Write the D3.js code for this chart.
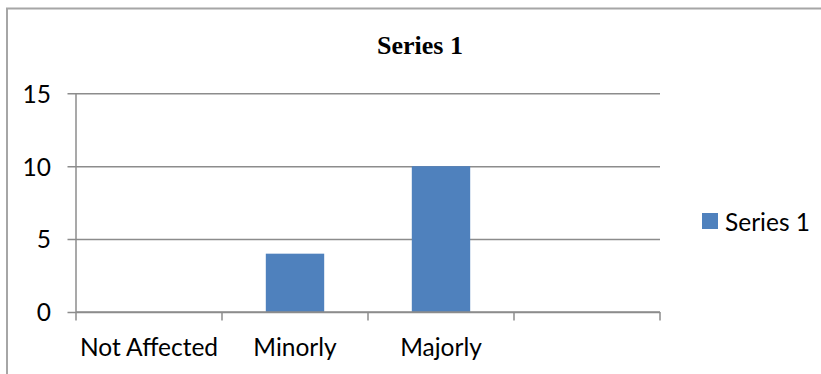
<!DOCTYPE html>
<html>
<head>
<meta charset="utf-8">
<script src="https://cdn.jsdelivr.net/npm/d3@7"></script>
<style>
  html, body { margin: 0; padding: 0; background: #fff; }
  svg { display: block; }
</style>
</head>
<body>
<svg id="chart" width="821" height="374"></svg>
<script>
// Chart data
const categories = ["Not Affected", "Minorly", "Majorly", ""];
const seriesName = "Series 1";
const seriesValues = [0, 4, 10, null];
const yTicks = [0, 5, 10, 15];

const W = 821, H = 374;
const plot = { left: 76, right: 660, top: 93.3, bottom: 312 };
const labelFont = "Lato, 'Noto Sans', sans-serif";
const labelSize = 24.5;
const gridColor = "#8c8c8c";
const barColor = "#4f81bd";

const svg = d3.select("#chart");

// Outer chart frame (runs off the right and bottom edges)
svg.append("rect")
  .attr("x", 7).attr("y", 8.5)
  .attr("width", W + 20).attr("height", H + 20)
  .attr("fill", "none")
  .attr("stroke", "#a6a6a6")
  .attr("stroke-width", 2);

// Scales
const x = d3.scaleBand()
  .domain(categories)
  .range([plot.left, plot.right])
  .paddingInner(0.6)
  .paddingOuter(0.3);

const xCat = d3.scaleBand()
  .domain(categories)
  .range([plot.left, plot.right])
  .padding(0);

const y = d3.scaleLinear()
  .domain([0, 15])
  .range([plot.bottom, plot.top]);

// Horizontal gridlines with left tick marks
const yAxis = d3.axisLeft(y)
  .tickValues(yTicks)
  .tickSize(-(plot.right - plot.left))
  .tickSizeOuter(0)
  .tickPadding(25)
  .tickFormat(d3.format("d"));

const gy = svg.append("g")
  .attr("transform", `translate(${plot.left},0)`)
  .call(yAxis);
gy.select(".domain").remove();
gy.selectAll(".tick line")
  .attr("x1", -8.5)
  .attr("stroke", gridColor)
  .attr("stroke-width", 1.5);
gy.selectAll(".tick text")
  .attr("font-family", labelFont)
  .attr("font-size", labelSize)
  .attr("fill", "#000")
  .attr("dy", "0.36em");

// Vertical value axis line
svg.append("line")
  .attr("x1", plot.left).attr("x2", plot.left)
  .attr("y1", plot.top).attr("y2", plot.bottom)
  .attr("stroke", gridColor)
  .attr("stroke-width", 1.5);

// Bars
svg.append("g")
  .selectAll("rect")
  .data(categories.map((c, i) => ({ c, v: seriesValues[i] })).filter(d => d.v))
  .join("rect")
  .attr("x", d => x(d.c))
  .attr("width", x.bandwidth())
  .attr("y", d => y(d.v))
  .attr("height", d => y(0) - y(d.v))
  .attr("fill", barColor);

// Category axis with tick marks between categories
const boundaries = categories.map(c => xCat(c)).concat([plot.right]);
const gx = svg.append("g");
gx.append("line")
  .attr("x1", plot.left).attr("x2", plot.right)
  .attr("y1", y(0)).attr("y2", y(0))
  .attr("stroke", gridColor)
  .attr("stroke-width", 1.5);
gx.selectAll("line.tk")
  .data(boundaries)
  .join("line")
  .attr("class", "tk")
  .attr("x1", d => d).attr("x2", d => d)
  .attr("y1", y(0)).attr("y2", y(0) + 8.5)
  .attr("stroke", gridColor)
  .attr("stroke-width", 1.5);
gx.selectAll("text")
  .data(categories)
  .join("text")
  .attr("x", d => xCat(d) + xCat.bandwidth() / 2)
  .attr("y", 356)
  .attr("text-anchor", "middle")
  .attr("font-family", labelFont)
  .attr("font-size", labelSize)
  .attr("fill", "#000")
  .text(d => d);

// Title
svg.append("text")
  .attr("x", 420)
  .attr("y", 54)
  .attr("text-anchor", "middle")
  .attr("font-family", "'Liberation Serif', 'Times New Roman', serif")
  .attr("font-weight", "bold")
  .attr("font-size", 26)
  .attr("fill", "#000")
  .text(seriesName);

// Legend
const lg = svg.append("g").attr("transform", "translate(702,213)");
lg.append("rect")
  .attr("width", 16).attr("height", 16)
  .attr("fill", barColor);
lg.append("text")
  .attr("x", 23).attr("y", 17.5)
  .attr("font-family", labelFont)
  .attr("font-size", labelSize)
  .attr("fill", "#000")
  .text(seriesName);
</script>
</body>
</html>
